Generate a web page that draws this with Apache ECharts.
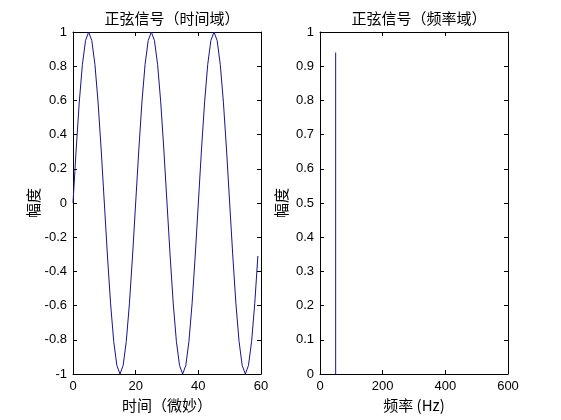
<!DOCTYPE html>
<head>
    <meta charset="utf-8"/>
</head>
<body style="margin:0;background:#fff;">
<div id="main" style="width:561px;height:420px;"></div>
<script src="https://cdn.jsdelivr.net/npm/echarts@6/dist/echarts.min.js"></script>
<script type="text/javascript">
// 时间轴 (微妙)
var timeUs = [0,1,2,3,4,5,6,7,8,9,10,11,12,13,14,15,16,17,18,19,
              20,21,22,23,24,25,26,27,28,29,30,31,32,33,34,35,36,37,38,39,
              40,41,42,43,44,45,46,47,48,49,50,51,52,53,54,55,56,57,58,59];
// 幅度
var ampTime = [0,0.31,0.59,0.81,0.95,1,0.95,0.81,0.59,0.31,0,-0.31,-0.59,-0.81,-0.95,-1,-0.95,-0.81,-0.59,-0.31,
               0,0.31,0.59,0.81,0.95,1,0.95,0.81,0.59,0.31,0,-0.31,-0.59,-0.81,-0.95,-1,-0.95,-0.81,-0.59,-0.31,
               0,0.31,0.59,0.81,0.95,1,0.95,0.81,0.59,0.31,0,-0.31,-0.59,-0.81,-0.95,-1,-0.95,-0.81,-0.59,-0.31];
// 频率域
var freqHz = [50, 50];
var ampFreq = [0, 0.94];

var lineColor = '#14148c';
var labelFont = {color:'#000', fontSize:13, fontFamily:'Liberation Sans, Arial, sans-serif'};
var nameFont = {color:'#000', fontSize:15, fontFamily:'Noto Sans CJK SC, sans-serif'};

function pairs(xs, ys){
    var out = [];
    for (var i = 0; i < xs.length; i++) out.push([xs[i], ys[i]]);
    return out;
}

// 一个坐标轴（主轴或镜像轴）
function axis(kind, grid, min, max, interval, pos, main, name){
    var a = {
        type:'value', gridIndex:grid, min:min, max:max, interval:interval,
        position:pos,
        splitLine:{show:false},
        axisLine:{show:true, onZero:false, lineStyle:{color:'#000', width:1}},
        axisTick:{show:true, inside:true, length:4, lineStyle:{color:'#000'}},
        axisLabel:{show:main, margin:6, color:labelFont.color, fontSize:labelFont.fontSize, fontFamily:labelFont.fontFamily}
    };
    if (main && name){
        a.name = name;
        a.nameLocation = 'middle';
        a.nameTextStyle = nameFont;
        if (kind == 'y'){ a.nameGap = 31; a.nameRotate = 90; }
        else { a.nameGap = 19; }
    }
    return a;
}

var myChart = echarts.init(document.getElementById('main'));
var options = {
    backgroundColor:'#fff',
    animation:false,
    title:[
        {text:'正弦信号（时间域）', left:167, textAlign:'center', top:6,
         textStyle:{fontSize:15, fontWeight:'normal', color:'#000', fontFamily:'Noto Sans CJK SC'}},
        {text:'正弦信号（频率域）', left:414, textAlign:'center', top:6,
         textStyle:{fontSize:15, fontWeight:'normal', color:'#000', fontFamily:'Noto Sans CJK SC'}}
    ],
    grid:[
        {left:73, top:32, width:188, height:342},
        {left:320, top:32, width:188, height:342}
    ],
    xAxis:[
        axis('x', 0, 0, 60, 20, 'bottom', true, '时间（微妙）'),
        axis('x', 0, 0, 60, 20, 'top', false),
        axis('x', 1, 0, 600, 200, 'bottom', true, '频率 (Hz)'),
        axis('x', 1, 0, 600, 200, 'top', false)
    ],
    yAxis:[
        axis('y', 0, -1, 1, 0.2, 'left', true, '幅度'),
        axis('y', 0, -1, 1, 0.2, 'right', false),
        axis('y', 1, 0, 1, 0.1, 'left', true, '幅度'),
        axis('y', 1, 0, 1, 0.1, 'right', false)
    ],
    series:[
        {type:'line', xAxisIndex:0, yAxisIndex:0, data:pairs(timeUs, ampTime),
         showSymbol:false, lineStyle:{color:lineColor, width:1}, itemStyle:{color:lineColor}},
        {type:'line', xAxisIndex:2, yAxisIndex:2, data:pairs(freqHz, ampFreq),
         showSymbol:false, lineStyle:{color:lineColor, width:1}, itemStyle:{color:lineColor}}
    ]
};
myChart.setOption(options);
</script>
</body>
